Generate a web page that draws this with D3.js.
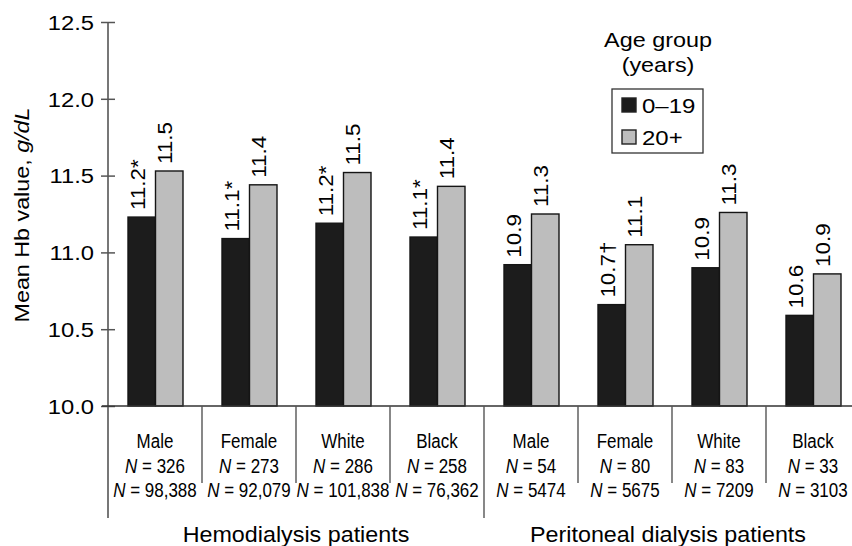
<!DOCTYPE html>
<html>
<head>
<meta charset="utf-8">
<script src="https://cdn.jsdelivr.net/npm/d3@7"></script>
<style>
  html, body { margin: 0; padding: 0; background: #fff; }
  svg { display: block; font-family: "Liberation Sans", Arial, Helvetica, sans-serif; }
</style>
</head>
<body>
<svg id="chart" width="852" height="546"></svg>
<script>
// ---- data ----
const categories = ["Male", "Female", "White", "Black", "Male", "Female", "White", "Black"];
const nYoung = ["326", "273", "286", "258", "54", "80", "83", "33"];
const nAdult = ["98,388", "92,079", "101,838", "76,362", "5474", "5675", "7209", "3103"];
const groups = ["Hemodialysis patients", "Peritoneal dialysis patients"];
const seriesNames = ["0\u201319", "20+"];
const values0to19 = [11.23, 11.09, 11.19, 11.10, 10.92, 10.66, 10.90, 10.59];
const values20plus = [11.53, 11.44, 11.52, 11.43, 11.25, 11.05, 11.26, 10.86];
const labels0to19 = ["11.2*", "11.1*", "11.2*", "11.1*", "10.9", "10.7\u2020", "10.9", "10.6"];
const labels20plus = ["11.5", "11.4", "11.5", "11.4", "11.3", "11.1", "11.3", "10.9"];
const yTicks = [10.0, 10.5, 11.0, 11.5, 12.0, 12.5];
const legendTitle = ["Age group", "(years)"];
const yTitle = "Mean Hb value, ";
const yTitleUnit = "g/dL";

// ---- layout ----
const svg = d3.select("#chart");
const axisX = 108, yTop = 22, yBase = 406;
const idx = categories.map((d, i) => i);
const x = d3.scaleBand().domain(idx).range([axisX, axisX + 94 * 8]).paddingInner(0).paddingOuter(0);
const xs = d3.scaleBand().domain(seriesNames).range([20, 75]);
const y = d3.scaleLinear().domain([10, 12.5]).range([yBase, yTop]);
const fills = ["#1c1c1c", "#bdbdbd"];
const WIDE = 1.15;
const INK = "#000";

// bars
const data = idx.map(i => ({ i, vals: [values0to19[i], values20plus[i]], labs: [labels0to19[i], labels20plus[i]] }));
const g = svg.append("g");
data.forEach(d => {
  seriesNames.forEach((s, k) => {
    const bx = x(d.i) + xs(s);
    g.append("rect")
      .attr("x", bx).attr("y", y(d.vals[k]))
      .attr("width", xs.bandwidth()).attr("height", y(10) - y(d.vals[k]))
      .attr("fill", fills[k]).attr("stroke", "#151515").attr("stroke-width", 1.4);
    const cx = bx + xs.bandwidth() / 2 + 3;
    const ty = y(d.vals[k]) - 7;
    g.append("text")
      .attr("transform", `translate(${cx},${ty}) rotate(-90) scale(${WIDE},1)`)
      .attr("font-size", 19.5).attr("fill", INK)
      .attr("text-anchor", "start")
      .text(d.labs[k]);
  });
});

// y axis
const yAxis = d3.axisLeft(y).tickValues(yTicks).tickFormat(d3.format(".1f")).tickSizeOuter(0).tickSizeInner(7);
const ya = svg.append("g").attr("transform", `translate(${axisX},0)`).call(yAxis);
ya.select(".domain").remove();
ya.selectAll(".tick line").attr("x1", -7).attr("x2", 7).attr("stroke", "#555").attr("stroke-width", 1.5);
ya.selectAll(".tick text")
  .attr("x", 0).attr("dy", null)
  .attr("transform", `translate(-14,7.2) scale(1.17,1)`)
  .attr("font-size", 20.3).attr("fill", INK)
  .attr("font-family", "'Liberation Sans', Arial, sans-serif");
svg.append("line").attr("x1", axisX).attr("x2", axisX).attr("y1", yTop).attr("y2", 518)
  .attr("stroke", "#555").attr("stroke-width", 1.6);

// baseline
svg.append("line").attr("x1", 102).attr("x2", 852).attr("y1", yBase).attr("y2", yBase)
  .attr("stroke", "#333").attr("stroke-width", 1.6);

// separators
idx.forEach(i => {
  if (i === 0) return;
  const sx = x(i);
  svg.append("line").attr("x1", sx).attr("x2", sx).attr("y1", yBase).attr("y2", i === 4 ? 518 : 483)
    .attr("stroke", "#555").attr("stroke-width", 1.4);
});

// category labels
const NARROW = 0.87;
idx.forEach(i => {
  const cx = x(i) + x.bandwidth() / 2;
  svg.append("text").attr("transform", `translate(${cx},448) scale(${NARROW},1)`)
    .attr("text-anchor", "middle").attr("font-size", 19.5).attr("fill", INK).text(categories[i]);
  [[nYoung[i], 472.5], [nAdult[i], 496.5]].forEach(([n, by]) => {
    const t = svg.append("text").attr("transform", `translate(${cx},${by}) scale(${NARROW},1)`)
      .attr("text-anchor", "middle").attr("font-size", 19.5).attr("fill", INK);
    t.append("tspan").attr("font-style", "italic").text("N");
    t.append("tspan").text(" = " + n);
  });
});

// group labels
[[groups[0], (x(0) + x(4)) / 2], [groups[1], 668]].forEach(([txt, cx]) => {
  svg.append("text").attr("transform", `translate(${cx},542) scale(1.06,1)`)
    .attr("text-anchor", "middle").attr("font-size", 22).attr("fill", INK).text(txt);
});

// y title
const yt = svg.append("text")
  .attr("transform", `translate(28.5,215) rotate(-90) scale(1.11,1)`)
  .attr("text-anchor", "middle").attr("font-size", 21).attr("fill", INK);
yt.append("tspan").text(yTitle);
yt.append("tspan").attr("font-style", "italic").text(yTitleUnit);

// legend
const lg = svg.append("g");
lg.append("text").attr("transform", `translate(658,47) scale(1.17,1)`).attr("text-anchor", "middle")
  .attr("font-size", 20).attr("fill", INK).text(legendTitle[0]);
lg.append("text").attr("transform", `translate(658,72) scale(1.17,1)`).attr("text-anchor", "middle")
  .attr("font-size", 20).attr("fill", INK).text(legendTitle[1]);
lg.append("rect").attr("x", 612).attr("y", 89).attr("width", 91).attr("height", 64)
  .attr("fill", "#fff").attr("stroke", "#333").attr("stroke-width", 1.3);
seriesNames.forEach((s, k) => {
  const sy = 98 + k * 32;
  lg.append("rect").attr("x", 622).attr("y", sy).attr("width", 14).attr("height", 14)
    .attr("fill", fills[k]).attr("stroke", "#222").attr("stroke-width", 1.4);
  lg.append("text").attr("transform", `translate(642,${sy + 15}) scale(1.17,1)`)
    .attr("font-size", 20.5).attr("fill", INK).text(s);
});
</script>
</body>
</html>
